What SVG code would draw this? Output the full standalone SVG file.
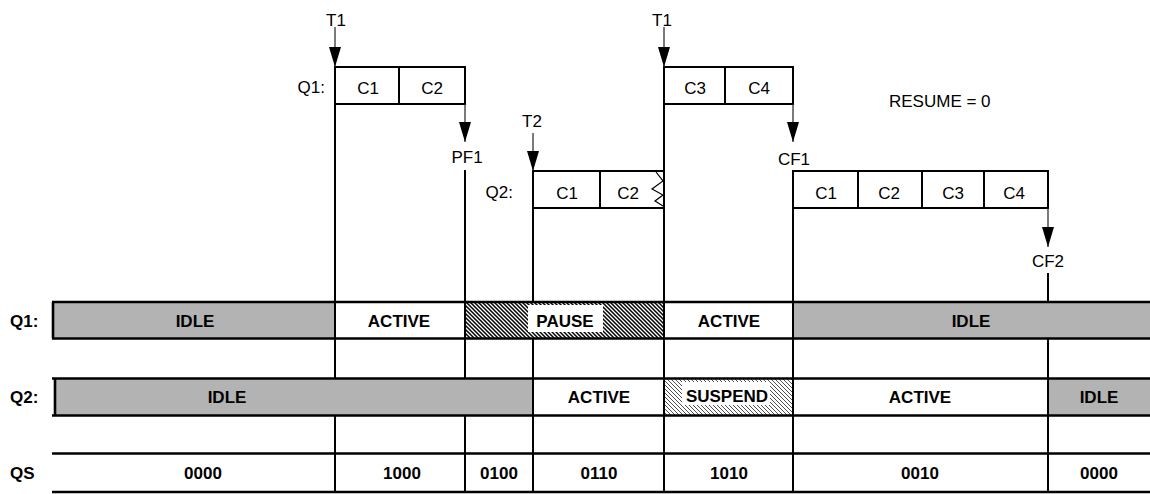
<svg xmlns="http://www.w3.org/2000/svg" width="1150" height="494" viewBox="0 0 1150 494">
<defs>
<style>
.t{font-family:"Liberation Sans",Arial,sans-serif;font-size:17px;fill:#000}
.b{font-family:"Liberation Sans",Arial,sans-serif;font-size:17px;font-weight:bold;fill:#000}
.m{text-anchor:middle}
.e{text-anchor:end}
.ln{stroke:#000;stroke-width:2;fill:none}
.bar{stroke:#000;stroke-width:2.6;fill:none}
.arr{stroke:#222;stroke-width:1.2;fill:none;marker-end:url(#ah)}
.box{fill:#fff;stroke:#000;stroke-width:2}
.gray{fill:#b3b3b3}
</style>
<marker id="ah" viewBox="0 0 20 12" refX="20" refY="6" markerWidth="20" markerHeight="12" markerUnits="userSpaceOnUse" orient="auto">
<path d="M0,0 L20,6 L0,12 z" fill="#000"/>
</marker>
<pattern id="hatchDark" width="4" height="4" patternUnits="userSpaceOnUse">
<rect width="4" height="4" fill="#fff"/>
<path d="M-1,-1 L5,5 M-1,3 L1,5 M3,-1 L5,1" stroke="#000" stroke-width="1.5"/>
</pattern>
<pattern id="hatchLight" width="4" height="4" patternUnits="userSpaceOnUse">
<rect width="4" height="4" fill="#fff"/>
<path d="M-1,-1 L5,5 M-1,3 L1,5 M3,-1 L5,1" stroke="#222" stroke-width="0.8"/>
</pattern>
</defs>
<rect width="1150" height="494" fill="#fff"/>

<!-- state bars -->
<g id="q1-bar">
<rect class="gray" x="53" y="302" width="282" height="36.5"/>
<rect fill="url(#hatchDark)" x="465" y="302" width="199" height="36.5"/>
<rect fill="#fff" x="528" y="305" width="75" height="27"/>
<rect class="gray" x="793" y="302" width="357" height="36.5"/>
<line class="bar" x1="52" y1="302" x2="1150" y2="302"/>
<line class="bar" x1="52" y1="338.5" x2="1150" y2="338.5"/>
<line class="bar" x1="53" y1="302" x2="53" y2="338.5"/>
<text class="b" x="10" y="327">Q1:</text>
<text class="b m" x="195" y="327">IDLE</text>
<text class="b m" x="399" y="327">ACTIVE</text>
<text class="b m" x="565" y="327">PAUSE</text>
<text class="b m" x="729" y="327">ACTIVE</text>
<text class="b m" x="971" y="327">IDLE</text>
</g>

<g id="q2-bar">
<rect class="gray" x="55" y="378.5" width="478" height="37"/>
<rect fill="url(#hatchLight)" x="664" y="378.5" width="129" height="37"/>
<rect fill="#fff" x="682" y="382" width="88" height="23"/>
<rect class="gray" x="1048" y="378.5" width="102" height="37"/>
<line class="bar" x1="52" y1="378.5" x2="1150" y2="378.5"/>
<line class="bar" x1="52" y1="415.5" x2="1150" y2="415.5"/>
<line class="bar" x1="55" y1="378.5" x2="55" y2="415.5"/>
<text class="b" x="10" y="403">Q2:</text>
<text class="b m" x="227" y="403">IDLE</text>
<text class="b m" x="599" y="403">ACTIVE</text>
<text class="b m" x="727" y="402">SUSPEND</text>
<text class="b m" x="920" y="403">ACTIVE</text>
<text class="b m" x="1099" y="403">IDLE</text>
</g>

<g id="qs-row">
<line class="bar" x1="52" y1="453.5" x2="1150" y2="453.5"/>
<line class="bar" x1="52" y1="492" x2="1150" y2="492"/>
<text class="b" x="10" y="479">QS</text>
<text class="b m" x="203" y="479">0000</text>
<text class="b m" x="402" y="479">1000</text>
<text class="b m" x="499" y="479">0100</text>
<text class="b m" x="599" y="479">0110</text>
<text class="b m" x="729" y="479">1010</text>
<text class="b m" x="920" y="479">0010</text>
<text class="b m" x="1099" y="479">0000</text>
</g>

<!-- command boxes -->
<g id="q1-box-a">
<rect class="box" x="335" y="67" width="130" height="37"/>
<line class="ln" x1="399" y1="67" x2="399" y2="104"/>
<text class="t e" x="325" y="93">Q1:</text>
<text class="t m" x="368" y="94">C1</text>
<text class="t m" x="432" y="94">C2</text>
</g>

<g id="q2-box-a">
<rect class="box" x="533" y="171" width="131" height="37"/>
<line class="ln" x1="600" y1="171" x2="600" y2="208"/>
<polyline points="656,172 663,181 652,189 663,195 655,201 663,206" fill="none" stroke="#000" stroke-width="1.2"/>
<text class="t e" x="513" y="198">Q2:</text>
<text class="t m" x="567" y="199">C1</text>
<text class="t m" x="628" y="199">C2</text>
</g>

<g id="q1-box-b">
<rect class="box" x="664" y="67" width="129" height="37"/>
<line class="ln" x1="725" y1="67" x2="725" y2="104"/>
<text class="t m" x="695" y="94">C3</text>
<text class="t m" x="759" y="94">C4</text>
</g>

<g id="q2-box-b">
<rect class="box" x="793" y="171" width="255" height="37"/>
<line class="ln" x1="858" y1="171" x2="858" y2="208"/>
<line class="ln" x1="922" y1="171" x2="922" y2="208"/>
<line class="ln" x1="984" y1="171" x2="984" y2="208"/>
<text class="t m" x="826" y="199">C1</text>
<text class="t m" x="889" y="199">C2</text>
<text class="t m" x="953" y="199">C3</text>
<text class="t m" x="1014" y="199">C4</text>
</g>

<g id="labels">
<text class="t m" x="336" y="26">T1</text>
<text class="t m" x="662" y="26">T1</text>
<text class="t m" x="532" y="127">T2</text>
<text class="t m" x="467" y="163">PF1</text>
<text class="t m" x="794" y="165">CF1</text>
<text class="t m" x="1048" y="267">CF2</text>
<text class="t" x="889" y="107">RESUME = 0</text>
</g>

<!-- connectors -->
<g id="connectors">
<line class="arr" x1="335" y1="27" x2="335" y2="67"/>
<line class="arr" x1="465" y1="104" x2="465" y2="142"/>
<line class="arr" x1="533" y1="133" x2="533" y2="171"/>
<line class="arr" x1="664" y1="27" x2="664" y2="67"/>
<line class="arr" x1="793" y1="104" x2="793" y2="142"/>
<line class="arr" x1="1048" y1="208" x2="1048" y2="247"/>

<line class="ln" x1="335" y1="104" x2="335" y2="378.5"/>
<line class="ln" x1="335" y1="415.5" x2="335" y2="492"/>
<line class="ln" x1="465" y1="170" x2="465" y2="378.5"/>
<line class="ln" x1="465" y1="415.5" x2="465" y2="492"/>
<line class="ln" x1="533" y1="208" x2="533" y2="302"/>
<line class="ln" x1="533" y1="338.5" x2="533" y2="492"/>
<line class="ln" x1="664" y1="104" x2="664" y2="492"/>
<line class="ln" x1="793" y1="208" x2="793" y2="492"/>
<line class="ln" x1="1048" y1="273" x2="1048" y2="302"/>
<line class="ln" x1="1048" y1="338.5" x2="1048" y2="492"/>
</g>
</svg>
